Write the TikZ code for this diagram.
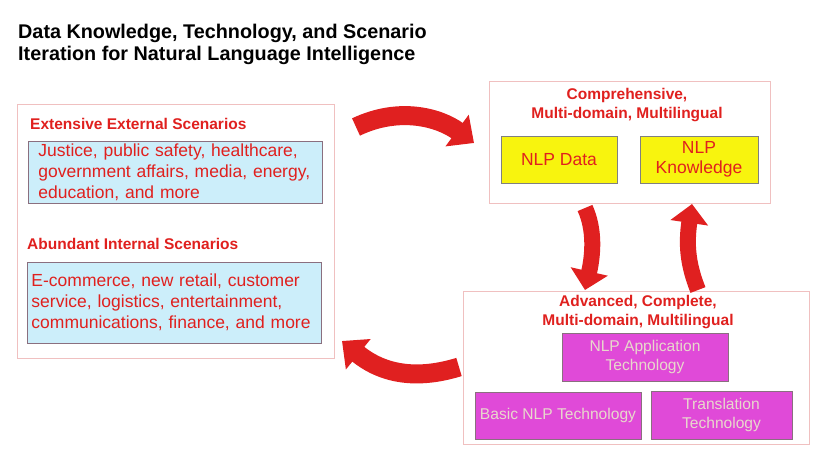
\documentclass[tikz,border=0pt]{standalone}
\usepackage{fontspec}
\setmainfont{Liberation Sans}
\usetikzlibrary{arrows.meta}
\definecolor{tred}{HTML}{E0201E}
\definecolor{ared}{HTML}{E02020}
\definecolor{bluefill}{HTML}{CCEEFA}
\definecolor{yelfill}{HTML}{F8F40E}
\definecolor{magfill}{HTML}{E04AD8}
\definecolor{magtext}{HTML}{E8D8CC}
\definecolor{pinkline}{HTML}{F0C0C0}
\definecolor{grayline}{HTML}{8A6F7F}
\tikzset{
  outerbox/.style={draw=pinkline, line width=0.9pt, fill=white, inner sep=0pt},
  bluebox/.style={draw=grayline, line width=0.9pt, fill=bluefill, text=tred, font=\fontsize{17.5}{21}\selectfont, align=left, anchor=west, inner ysep=0pt},
  heading/.style={text=tred, font=\bfseries\fontsize{15.5}{19}\selectfont, inner sep=0pt},
  yelbox/.style={draw=gray, line width=0.8pt, fill=yelfill, text=tred, font=\fontsize{17.5}{20}\selectfont, align=center, inner sep=0pt},
  magbox/.style={draw=grayline, line width=0.8pt, fill=magfill, text=magtext, font=\fontsize{15.6}{18.5}\selectfont, align=center, inner sep=0pt},
  bigarrow/.style={draw=ared, line width=19pt, -{Triangle[width=38pt,length=21pt]}},
  midarrow/.style={draw=ared, line width=16pt, -{Triangle[width=37pt,length=19pt]}}
}
\begin{document}
\begin{tikzpicture}[x=1pt,y=-1pt]
\useasboundingbox (0,0) rectangle (830,462);
% title
\node[anchor=west, align=left, inner sep=0pt, font=\bfseries\fontsize{19.8}{22}\selectfont] (title) at (18,44) {Data Knowledge, Technology, and Scenario\\Iteration for Natural Language Intelligence};
% left box
\node[outerbox, minimum width=317pt, minimum height=254pt] (left) at (175.5,231) {};
\node[heading, anchor=west] (ext) at (30,124) {Extensive External Scenarios};
\node[bluebox, minimum width=294pt, minimum height=62pt, text width=290pt, inner xsep=0pt] (extbox) at (28,172) {\hspace*{8pt}Justice, public safety, healthcare,\\\hspace*{8pt}government affairs, media, energy,\\\hspace*{8pt}education, and more};
\node[heading, anchor=west] (int) at (27,244) {Abundant Internal Scenarios};
\node[bluebox, minimum width=294pt, minimum height=81pt, text width=292pt, inner xsep=0pt] (intbox) at (27,302.5) {\hspace*{3pt}E-commerce, new retail, customer\\\hspace*{3pt}service, logistics, entertainment,\\\hspace*{3pt}communications, finance, and more};
% top right box
\node[outerbox, minimum width=281pt, minimum height=122pt] (top) at (629.5,142) {};
\node[heading, align=center] (toptitle) at (627,105.5) {Comprehensive,\\Multi-domain, Multilingual};
\node[yelbox, minimum width=116pt, minimum height=47pt] (data) at (559,159.5) {NLP Data};
\node[yelbox, minimum width=118pt, minimum height=47pt] (know) at (699,159.5) {NLP\\Knowledge};
% bottom right box
\node[outerbox, minimum width=346pt, minimum height=153pt] (bot) at (636,367.5) {};
\node[heading, align=center] (bottitle) at (638,312) {Advanced, Complete,\\Multi-domain, Multilingual};
\node[magbox, minimum width=166pt, minimum height=48pt] (app) at (645,357) {NLP Application\\Technology};
\node[magbox, minimum width=166pt, minimum height=47pt] (basic) at (558,415.5) {Basic NLP Technology};
\node[magbox, minimum width=141pt, minimum height=48pt] (trans) at (721.5,415) {Translation\\Technology};
% arrows
\coordinate (a1s) at (356,127);
\coordinate (a1e) at (474,143);
\draw[bigarrow] (a1s) .. controls (400,106) and (440,118) .. (a1e);
\coordinate (a2s) at (585,208);
\coordinate (a2e) at (585,290);
\draw[midarrow] (a2s) .. controls (595,230) and (593,255) .. (a2e);
\coordinate (a3s) at (698,290);
\coordinate (a3e) at (692,204);
\draw[midarrow] (a3s) .. controls (688,265) and (686,245) .. (a3e);
\coordinate (a4s) at (459,367);
\coordinate (a4e) at (342,341);
\draw[bigarrow] (a4s) .. controls (420,379) and (385,376) .. (a4e);
\end{tikzpicture}
\end{document}
